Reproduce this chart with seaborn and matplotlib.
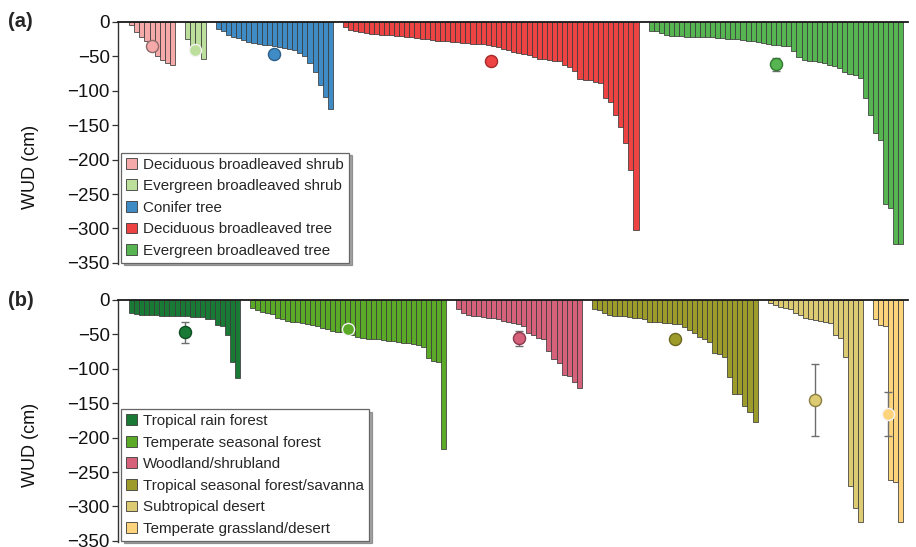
import matplotlib
matplotlib.use("Agg")
import matplotlib.pyplot as plt
from matplotlib.patches import Patch
import numpy as np
import pandas as pd
import seaborn as sns

# ---- (a) plant functional types: rooting depth of sites, sorted within group ----
pft_names = ["Deciduous broadleaved shrub", "Evergreen broadleaved shrub",
             "Conifer tree", "Deciduous broadleaved tree", "Evergreen broadleaved tree"]
pft_colors = ["#F6A9A9", "#BCDF9B", "#3F8BC5", "#EE4343", "#56B551"]
pft_mark_edge = ["#8c6b6b", "#f4f4f4", "#2c5f8a", "#a52a2a", "#2f7a2f"]

deciduous_shrub = [4, 15, 22, 28, 40, 50, 55, 60, 62]
evergreen_shrub = [25, 41, 45.5, 54]
conifer_tree = [9.7, 12.6, 19, 22, 23, 25.7, 29, 30.5, 32, 33, 34, 35.4, 36.5, 37.8,
                39, 41, 45, 50, 60, 73, 91, 109, 126]
deciduous_tree = [8, 11, 13.5, 14.5, 16, 17, 17.5, 18.5, 18.5, 19.5, 20, 21, 21.5, 22,
                  23, 24, 25, 26, 27, 27.5, 28, 29, 29.5, 30.5, 31, 31.5, 32, 32.5, 33,
                  34.5, 36, 39, 41, 43, 44.5, 46, 48, 51, 54, 54.5, 55, 56, 57,
                  62, 66, 71, 83, 84, 85, 87.5, 88, 110, 116, 135, 152, 176, 215, 302]
evergreen_tree = [12.5, 12.5, 16, 19.5, 20, 21, 21, 21.5, 21.5, 22, 22, 22.5, 22.5, 23,
                  23.5, 24, 24.5, 25, 26, 27, 28, 29.5, 30.5, 31.5, 33, 33.5, 34.5, 35.5,
                  42.5, 51.5, 55, 56, 57, 58, 60, 62, 64, 67, 72, 76, 77, 81,
                  111, 135, 162, 172, 264, 270, 322, 322]
pft_mean = [-35, -40, -46.5, -57, -61.5]
pft_se = [2, 2, 2, 2, 9]

# ---- (b) biomes ----
biome_names = ["Tropical rain forest", "Temperate seasonal forest", "Woodland/shrubland",
               "Tropical seasonal forest/savanna", "Subtropical desert",
               "Temperate grassland/desert"]
biome_colors = ["#197A35", "#5BAA27", "#D5617B", "#9D9B2A", "#DDCB74", "#FDD37C"]
biome_mark_edge = ["#0f4f22", "#f4f4f4", "#8a3a4c", "#6b6a1c", "#8a7d40", "#f4f4f4"]

tropical_rain = [19.5, 21, 22, 22, 22.5, 22.5, 23, 23, 23.5, 23.5, 24, 24, 24.5, 24.5,
                 25, 27, 28, 36, 38, 51, 90, 113]
temperate_forest = [12, 14.5, 17, 18.5, 20.5, 26.5, 28, 30, 31.5, 32.5, 34, 35, 36, 37.5,
                    41, 42, 44.5, 46, 47, 48, 50.5, 54, 55, 56, 56.5, 57, 58.5, 59.5, 60,
                    61, 62, 62.5, 63.5, 66, 68.5, 85, 88, 90, 217]
woodland = [13.5, 18.5, 22, 23.5, 24, 25, 25.5, 26.5, 28, 30.5, 32.5, 34, 35.5, 38, 48.5,
            51, 55.5, 57, 74, 86, 92, 109, 110.5, 118.5, 127.5]
tropical_seasonal = [13.5, 14, 19.5, 22, 23, 23.5, 24, 25, 25.5, 26.5, 27, 31.5, 32, 32.5,
                     33, 34, 35, 35.5, 39.5, 43.5, 48.5, 54.5, 57, 60.5, 76.5, 78.5, 82.5,
                     111.5, 136.5, 137, 153.5, 162.5, 178]
subtropical_desert = [4, 7.5, 10.5, 12, 13.5, 19.5, 22, 26.5, 28, 29, 30, 31.5, 34, 51,
                      55.5, 83.5, 271, 303, 323]
temperate_grassland = [27, 36, 38, 262, 265, 323]
biome_mean = [-47, -42.5, -55.5, -56.5, -145, -166]
biome_se = [15, 2, 11, 2, 52, 32]

yticks = [0, -50, -100, -150, -200, -250, -300, -350]

sns.set_theme(style="white")
plt.rcParams["font.family"] = ["Liberation Sans", "DejaVu Sans"]
plt.rcParams["axes.unicode_minus"] = True


def layout(groups, names, gap=3):
    rows, centers, start = [], [], 0
    for vals, name in zip(groups, names):
        pos = np.arange(start, start + len(vals))
        rows.append(pd.DataFrame({"pos": pos, "wud": -np.asarray(vals, float), "group": name}))
        centers.append(pos.mean())
        start = pos[-1] + gap
    return pd.concat(rows, ignore_index=True), centers


def draw_panel(ax, groups, names, colors, means, ses, edges, xlim, legend_font):
    df, centers = layout(groups, names)
    sns.barplot(data=df, x="pos", y="wud", hue="group", hue_order=names,
                palette=dict(zip(names, colors)), native_scale=True, dodge=False,
                width=1.0, errorbar=None, saturation=1.0, edgecolor="#3a3a3a",
                linewidth=0.55, legend=False, ax=ax)
    for c, m, s, fc, ec in zip(centers, means, ses, colors, edges):
        ax.errorbar(c, m, yerr=s, fmt="none", ecolor="#6e6e6e", elinewidth=1.0,
                    capsize=3, capthick=1.0, zorder=4)
        ax.plot(c, m, "o", ms=8.7, mfc=fc, mec=ec, mew=1.0, zorder=5)
    ax.set_xlim(*xlim)
    ax.set_ylim(-352, 0)
    ax.set_yticks(yticks)
    ax.set_yticklabels([f"{t}".replace("-", "\u2212") for t in yticks])
    ax.set_xticks([])
    ax.set_xlabel("")
    ax.set_ylabel("WUD (cm)", fontsize=13, color="#111111")
    for side in ("right", "bottom"):
        ax.spines[side].set_visible(False)
    ax.spines["left"].set_color("#333333")
    ax.spines["left"].set_linewidth(1.0)
    ax.spines["top"].set_color("#1a1a1a")
    ax.spines["top"].set_linewidth(1.3)
    ax.tick_params(axis="y", left=True, length=4, width=0.9, color="#333333",
                   labelsize=13.5, pad=2, labelcolor="#111111")
    handles = [Patch(facecolor=c, edgecolor="#3a3a3a", linewidth=0.6) for c in colors]
    leg = ax.legend(handles, names, loc="lower left", bbox_to_anchor=(0.002, 0.0),
                    fontsize=legend_font, frameon=True, fancybox=False, shadow=True,
                    handlelength=0.72, handleheight=0.72, handletextpad=0.42,
                    labelspacing=0.5, borderpad=0.32, borderaxespad=0.1)
    leg.get_frame().set_edgecolor("#666666")
    leg.get_frame().set_linewidth(0.9)


fig = plt.figure(figsize=(9.16, 5.47), dpi=100)
ax_a = fig.add_axes([0.1288, 0.517, 0.8625, 0.4428])
ax_b = fig.add_axes([0.1288, 0.0088, 0.8625, 0.4428])

draw_panel(ax_a, [deciduous_shrub, evergreen_shrub, conifer_tree, deciduous_tree, evergreen_tree],
           pft_names, pft_colors, pft_mean, pft_se, pft_mark_edge, (-2.7, 152.4), 10.9)
draw_panel(ax_b, [tropical_rain, temperate_forest, woodland, tropical_seasonal,
                  subtropical_desert, temperate_grassland],
           biome_names, biome_colors, biome_mean, biome_se, biome_mark_edge, (-2.75, 154.44), 10.9)

for ax in (ax_a, ax_b):
    ax.yaxis.set_label_coords(-0.1, 0.40)

fig.text(0.009, 0.96, "(a)", fontsize=14.5, fontweight="bold", va="center", ha="left")
fig.text(0.009, 0.451, "(b)", fontsize=14.5, fontweight="bold", va="center", ha="left")

fig.savefig("out.png", dpi=100, facecolor="white")
